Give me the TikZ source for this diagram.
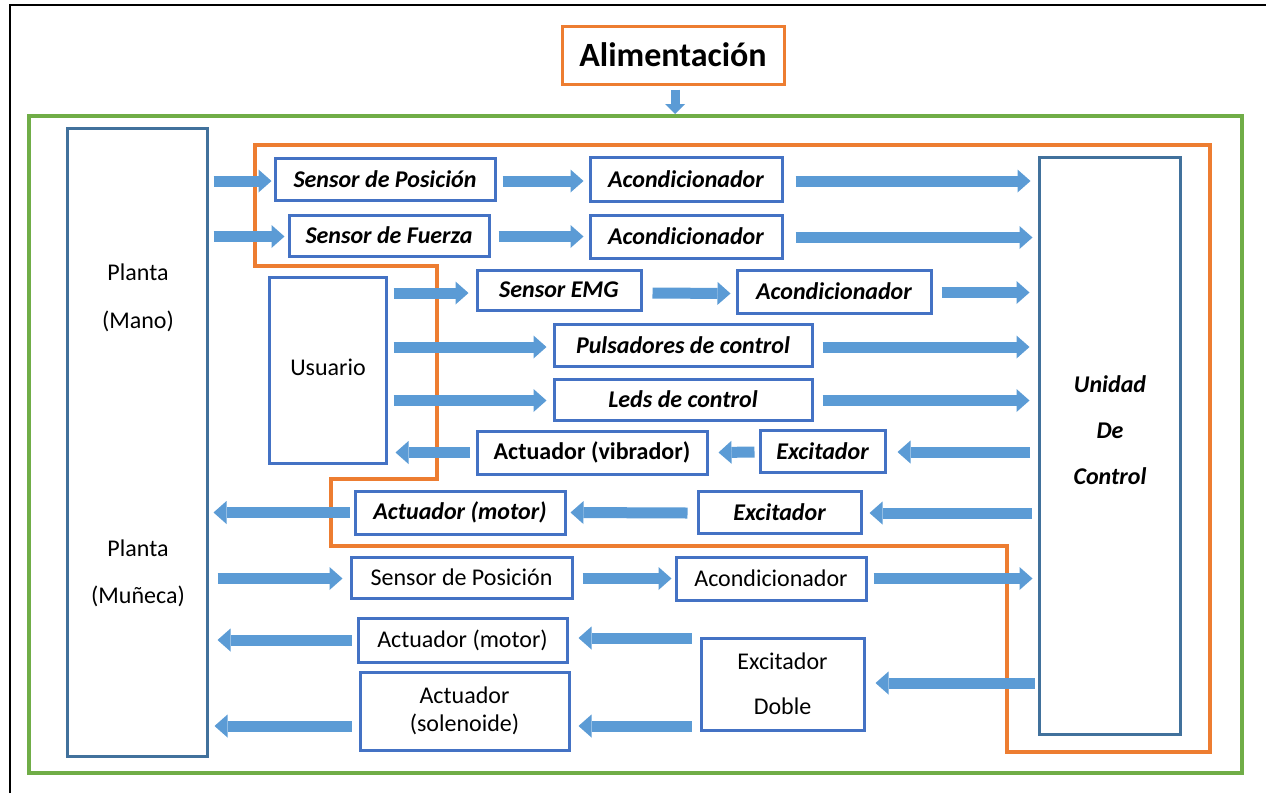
\documentclass[tikz,border=0pt]{standalone}
\usepackage{fontspec}
\setmainfont{Carlito}
\usetikzlibrary{arrows.meta,calc}
\definecolor{boxblue}{HTML}{4472C4}
\definecolor{darkblue}{HTML}{41719C}
\definecolor{orng}{HTML}{ED7D31}
\definecolor{grn}{HTML}{70AD47}
\definecolor{arrowblue}{HTML}{5B9BD5}
\newcommand\fsz{\fontsize{24}{28}\selectfont}
\tikzset{
  bx/.style={draw=boxblue, line width=3pt, inner sep=0pt, fill=white, font=\fsz, align=center},
  bi/.style={bx, font=\fsz\bfseries\itshape},
  bb/.style={bx, font=\fsz\bfseries},
  bigbox/.style={draw=darkblue, line width=3pt, inner sep=0pt},
  txt/.style={inner sep=0pt, align=center},
  arr/.style={line width=11pt, draw=arrowblue, -{Triangle[length=13pt,width=23pt,line width=0pt]}},
  arrs/.style={line width=9pt, draw=arrowblue, -{Triangle[length=10pt,width=20pt,line width=0pt]}},
}
\begin{document}
\begin{tikzpicture}[x=1pt,y=-1pt]
\useasboundingbox (0,0) rectangle (1266,793);
% outer black frame (top and left visible)
\draw[line width=2pt] (10,793) -- (10,5) -- (1266,5);
% green frame
\draw[grn, line width=3.5pt] (29,116) rectangle (1242,773);
\coordinate (gtop) at (675,114);
% orange outline
\draw[orng, line width=3.5pt, line join=miter] (255,145) -- (1210,145) -- (1210,752) -- (1007,752) -- (1007,546) -- (331,546) -- (331,479) -- (437,479) -- (437,266) -- (255,266) -- cycle;

% Alimentacion
\node[draw=orng, line width=3pt, minimum width=222, minimum height=58, inner sep=0pt,
      font=\fontsize{34}{38}\selectfont\bfseries] (alim) at (673,55) {Alimentación};

% big boxes
\node[bigbox, minimum width=140, minimum height=628] (pm) at (137,442) {};
\node[txt, font=\fontsize{24}{48}\selectfont] (pl1) at (138,298) {Planta\\(Mano)};
\node[txt, font=\fontsize{24}{47}\selectfont] (pl2) at (138,573.5) {Planta\\(Muñeca)};
\node[bigbox, minimum width=141, minimum height=577] (uc) at (1109.5,445.5) {};
\node[txt, font=\fontsize{24}{46}\selectfont\bfseries\itshape] (uct) at (1110,430) {Unidad\\De\\Control};

% boxes
\node[bi, minimum width=220, minimum height=42] (sp1) at (385,179) {Sensor de Posición};
\node[bi, minimum width=192, minimum height=44] (ac1) at (686,179) {Acondicionador};
\node[bi, minimum width=200, minimum height=41] (sf) at (389,235.5) {Sensor de Fuerza};
\node[bi, minimum width=192, minimum height=43] (ac2) at (686,236.5) {Acondicionador};
\node[bx, minimum width=117, minimum height=186] (us) at (327.5,370) {};
\node[txt, font=\fsz] (ust) at (328,367) {Usuario};
\node[bi, minimum width=164, minimum height=40] (emg) at (559,290) {Sensor EMG};
\node[bi, minimum width=194, minimum height=43] (ac3) at (834,291.5) {Acondicionador};
\node[bi, minimum width=258, minimum height=42] (pul) at (683,345) {Pulsadores de control};
\node[bi, minimum width=258, minimum height=41] (led) at (683,399.5) {Leds de control};
\node[bb, minimum width=230, minimum height=43] (avib) at (592,452.5) {Actuador (vibrador)};
\node[bi, minimum width=125, minimum height=42] (ex1) at (822.5,451) {Excitador};
\node[bi, minimum width=210, minimum height=43] (amot) at (460,512.5) {Actuador (motor)};
\node[bi, minimum width=163, minimum height=42] (ex2) at (779.5,512) {Excitador};
\node[bx, minimum width=221, minimum height=41] (sp2) at (461.5,577.5) {Sensor de Posición};
\node[bx, minimum width=190, minimum height=43] (ac4) at (771,578.5) {Acondicionador};
\node[bx, minimum width=209, minimum height=44] (amot2) at (462.5,640) {Actuador (motor)};
\node[bx, minimum width=209, minimum height=78, font=\fontsize{24}{28}\selectfont] (asol) at (464.5,711) {Actuador\\(solenoide)};
\node[bx, minimum width=163, minimum height=92, font=\fontsize{24}{45}\selectfont] (exd) at (782.5,684) {Excitador\\Doble};

% arrows
\draw[arrs] ($(alim.south)+(2,4)$) -- (gtop);
% row 1
\draw[arr] ($(pm.east|-sp1.west)+(5,2)$) -- ($(sp1.west)+(-2,2)$);
\draw[arr] ($(sp1.east)+(6,2)$) -- ($(ac1.west)+(-5,2)$);
\draw[arr] ($(ac1.east)+(12,2)$) -- ($(uc.west|-ac1.east)+(-7,2)$);
% row 2
\draw[arr] ($(pm.east|-sf.west)+(5,1)$) -- ($(sf.west)+(-3,1)$);
\draw[arr] ($(sf.east)+(8,1)$) -- ($(ac2.west)+(-5,0)$);
\draw[arr] ($(ac2.east)+(12,1)$) -- ($(uc.west|-ac2.east)+(-5,1)$);
% row 3
\draw[arr] ($(us.east|-emg.west)+(6,3)$) -- ($(emg.west)+(-7,3)$);
\draw[arr] ($(emg.east)+(10,3)$) -- ($(ac3.west)+(-5,2)$);
\draw[arr] ($(ac3.east)+(9,1)$) -- ($(uc.west|-ac3.east)+(-8,1)$);
% rows 4, 5
\draw[arr] ($(us.east|-pul.west)+(6,2)$) -- ($(pul.west)+(-6,2)$);
\draw[arr] ($(pul.east)+(9,2)$) -- ($(uc.west|-pul.east)+(-8,2)$);
\draw[arr] ($(us.east|-led.west)+(6,1)$) -- ($(led.west)+(-6,1)$);
\draw[arr] ($(led.east)+(9,1)$) -- ($(uc.west|-led.east)+(-8,1)$);
% row 6
\draw[arr] ($(avib.west)+(-6,0)$) -- ($(us.east|-avib.west)+(8,0)$);
\draw[arr] ($(ex1.west)+(-4,1)$) -- ($(avib.east)+(10,0)$);
\draw[arr] ($(uc.west|-ex1.east)+(-8,1)$) -- ($(ex1.east)+(11,1)$);
% row 7
\draw[arr] ($(amot.west)+(-4,0)$) -- ($(pm.east|-amot.west)+(5,0)$);
\draw[arr] ($(ex2.west)+(-9,1)$) -- ($(amot.east)+(4,0)$);
\draw[arr] ($(uc.west|-ex2.east)+(-6,1)$) -- ($(ex2.east)+(7,1)$);
% row 8
\draw[arr] ($(pm.east|-sp2.west)+(9,1)$) -- ($(sp2.west)+(-7,1)$);
\draw[arr] ($(sp2.east)+(9,1)$) -- ($(ac4.west)+(-3,0)$);
\draw[arr] ($(ac4.east)+(6,0)$) -- ($(uc.west|-ac4.east)+(-5,0)$);
% row 9
\draw[arr] ($(amot2.west)+(-5,0)$) -- ($(pm.east|-amot2.west)+(9,0)$);
\draw[arr] ($(exd.west|-amot2.east)+(-8,-2)$) -- ($(amot2.east)+(10,-2)$);
% row 10
\draw[arr] ($(uc.west|-exd.east)+(-3,-1)$) -- ($(exd.east)+(10,-1)$);
% row 11
\draw[arr] ($(asol.west)+(-7,15)$) -- ($(pm.east|-asol.west)+(6,15)$);
\draw[arr] ($(exd.west|-asol.east)+(-8,15)$) -- ($(asol.east)+(8,15)$);
\end{tikzpicture}
\end{document}
